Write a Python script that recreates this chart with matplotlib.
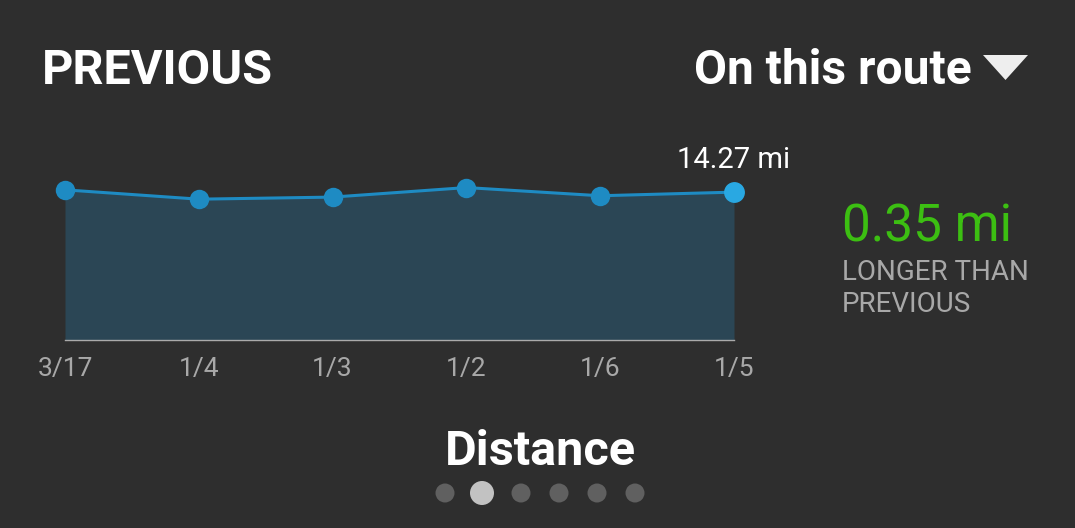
import matplotlib
matplotlib.use('Agg')
import matplotlib.pyplot as plt
from matplotlib.patches import Circle, Polygon

# data
dates = ['3/17', '1/4', '1/3', '1/2', '1/6', '1/5']
distance_mi = [14.49, 13.59, 13.79, 14.71, 13.92, 14.27]
diff_mi = 0.35

W, H = 1075, 528
bg = '#2e2e2e'
plt.rcParams['font.family'] = ['Roboto', 'DejaVu Sans']

fig = plt.figure(figsize=(W / 100, H / 100), dpi=100, facecolor=bg)

# overlay in pixel coords for texts and page dots
ov = fig.add_axes([0, 0, 1, 1])
ov.set_xlim(0, W)
ov.set_ylim(H, 0)
ov.axis('off')
ov.set_facecolor(bg)

# chart axes: x 65..734, y 140..340 px
left, right, top, bottom = 65, 734, 140, 340
ax = fig.add_axes([left / W, 1 - bottom / H, (right - left) / W, (bottom - top) / H])
ax.set_facecolor('none')
x = list(range(len(dates)))
ax.fill_between(x, distance_mi, 0, color='#2b4655', lw=0)
ax.plot(x, distance_mi, color='#1e8bc3', lw=2.2, marker='o', ms=14,
        markeredgewidth=0, clip_on=False, zorder=3)
ax.plot(x[-1], distance_mi[-1], 'o', color='#29a8e2', ms=15, markeredgewidth=0,
        clip_on=False, zorder=4)
ax.set_xlim(0, len(dates) - 1)
ax.set_ylim(0, 19.3)
for s in ['top', 'right', 'left']:
    ax.spines[s].set_visible(False)
ax.spines['bottom'].set_color('#aaaaaa')
ax.spines['bottom'].set_linewidth(1)
ax.set_yticks([])
ax.set_xticks(x)
ax.set_xticklabels(dates, color='#a8a8a8', fontsize=19)
ax.tick_params(axis='x', length=0, pad=12)
ax.annotate(f'{distance_mi[-1]:.2f} mi', (x[-1], distance_mi[-1]),
            xytext=(0, 13), textcoords='offset points', ha='center', va='bottom',
            color='white', fontsize=21)

# header
ov.text(42, 71, 'PREVIOUS', color='white', fontsize=35, fontweight='bold',
        va='center', ha='left')
ov.text(972, 71, 'On this route', color='white', fontsize=34.5, fontweight='bold',
        va='center', ha='right')
ov.add_patch(Polygon([(983, 55), (1028, 55), (1005.5, 80)], closed=True,
                     color='#eeeeee', lw=0))

# right side summary
ov.text(842, 228, f'{diff_mi:.2f} mi', color='#3cbf12', fontsize=37,
        va='center', ha='left')
ov.text(842, 272, 'LONGER THAN', color='#a8a8a8', fontsize=20, va='center', ha='left')
ov.text(842, 304, 'PREVIOUS', color='#a8a8a8', fontsize=20, va='center', ha='left')

# bottom title and page dots
ov.text(540, 452, 'Distance', color='white', fontsize=35, fontweight='bold',
        va='center', ha='center')
dot_x = [445, 482, 521, 559, 597, 635]
for i, dx in enumerate(dot_x):
    if i == 1:
        ov.add_patch(Circle((dx, 493), 12, color='#c2c2c2', lw=0))
    else:
        ov.add_patch(Circle((dx, 493), 9.5, color='#606060', lw=0))

fig.savefig('out.png', dpi=100, facecolor=bg)
